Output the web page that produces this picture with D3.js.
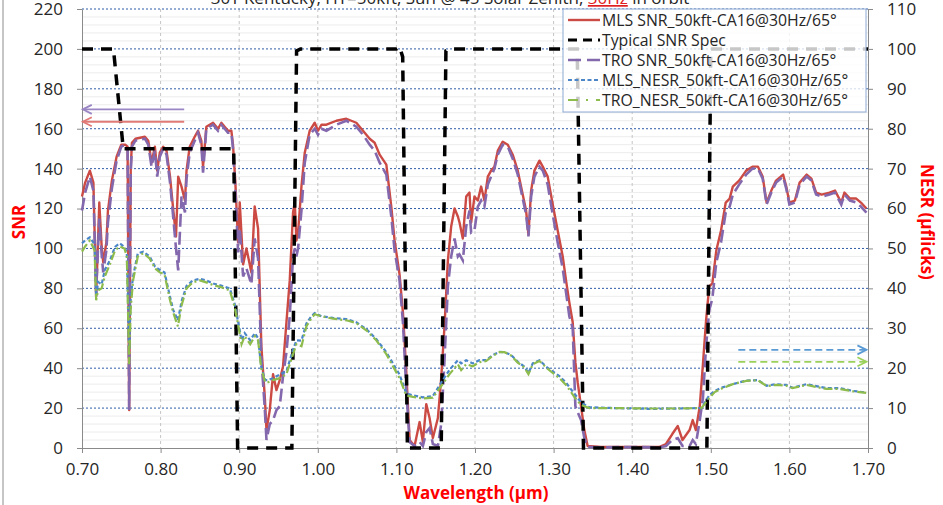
<!DOCTYPE html>
<html>
<head>
<meta charset="utf-8">
<script src="https://cdn.jsdelivr.net/npm/d3@7"></script>
<style>
  body { margin: 0; background: #fff; }
  svg { display: block; font-family: "Open Sans", "Liberation Sans", sans-serif; }
</style>
</head>
<body>
<svg id="chart" width="943" height="505"></svg>
<script>
// wavelength grid (µm) for the SNR curves
const snrWl = [0.700,0.704,0.710,0.7145,0.718,0.722,0.725,0.727,0.731,0.733,0.738,0.744,0.750,0.755,0.758,0.760,0.762,0.7635,0.768,0.780,
  0.7843,0.7885,0.7927,0.7957,0.799,0.8033,0.8075,0.812,0.8162,0.8196,0.8224,0.8266,0.831,0.833,0.837,0.8434,0.8476,0.8518,0.854,0.8582,
  0.8667,0.873,0.8773,0.8815,0.8857,0.890,0.8921,0.895,0.8986,0.9007,0.905,0.9092,0.9155,0.9197,0.924,0.9282,0.9325,0.9347,0.9389,0.9431,
  0.9474,0.9516,0.9558,0.9601,0.9643,0.9685,0.9707,0.9728,0.9749,0.9792,0.9834,0.9897,0.9961,1.0003,1.0046,1.011,1.0236,1.0363,1.049,1.0575,
  1.066,1.0723,1.0787,1.0872,1.0935,1.0977,1.104,1.1083,1.1125,1.1168,1.1231,1.1295,1.1337,1.138,1.1422,1.1464,1.1528,1.157,1.1612,1.1655,
  1.1697,1.174,1.1782,1.1803,1.1845,1.1888,1.193,1.1951,1.1993,1.2036,1.2078,1.212,1.2163,1.2205,1.2247,1.229,1.2353,1.2417,1.248,1.2544,
  1.2607,1.265,1.268,1.2714,1.2756,1.282,1.2862,1.2925,1.2989,1.3052,1.3116,1.3158,1.32,1.3243,1.3277,1.3306,1.3349,1.3391,1.3433,1.36,
  1.40,1.434,1.443,1.451,1.458,1.464,1.473,1.477,1.481,1.486,1.490,1.494,1.498,1.502,1.507,1.513,1.519,1.524,1.528,1.536,
  1.545,1.553,1.560,1.566,1.571,1.577,1.583,1.592,1.596,1.600,1.607,1.613,1.622,1.628,1.634,1.641,1.651,1.658,1.666,1.670,
  1.677,1.685,1.691,1.698];

const mlsSnr = [126,133,139,133,76,123,101,93,103,119,134,146,152,152,151,19,140,153,155,156,
  154,143,151,139,148,151,149,136,119,106,136,131,124,139,151,156,159,154,141,161,
  163,160,163,161,159,159,152,134,103,123,92,100,88,121,110,51,26,9,19,37,
  29,34,41,63,84,118,123,104,108,131,148,159,163,159,162,162,164,165,163,159,
  155,153,147,142,121,104,87,68,39,4,1,13,3,22,15,5,15,35,61,94,
  111,120,116,113,105,126,128,113,126,124,131,124,136,139,141,149,153.5,152,147,139,
  127,119,107,129,139,144,141,136,122,109,96,84,73,63,43,33,21,9,1,0.5,
  0.5,0.5,2,7,11,4,9,14,9,21,42,64,81,82.5,99,109,123,125,131,134,
  139,141,141,136,123,129,134,137,131,123,124,133,137,135,128,127,128,129,123,128,
  125,125,123,120];

const troSnr = [119,128,136,129,78,115,97,88,99,113,130,144,151,152,150,19,138,151,154,155,
  152,141,149,136,146,150,147,133,115,100,89,126,118,135,148,154,158,152,138,160,
  162,159,162,160,158,158,150,130,98,110,86,90,82,105,95,45,20,4,12,14,
  19,21,36,48,66,96,100,96,100,119,143,157,160,157,160,159,162,164,161,157,
  152,149,143,137,116,99,84,63,30,3,1,3,1,8,10,2,1,12,44,81,
  96,105,96,97,94,111,119,108,109,121,124,121,132,136,140,147,152,151,145,137,
  125,117,106,126,136,141,139,132,117,103,90,78,66,60,21,18,14,5,0.5,0.3,
  0.5,0.3,1,4,5,1,1,4,2,14,25,51,69,75,93,103,118,121,127,132,
  137,140,140,135,122,128,133,136,130,122,123,132,136,134,127,126,127,128,122,127,
  124,123,121,118];

// wavelength grid (µm) for the NESR curves
const nesrWl = [0.700,0.704,0.710,0.716,0.718,0.7205,0.725,0.729,0.7355,0.742,0.748,0.754,0.757,0.760,0.762,0.765,0.771,0.778,0.786,0.793,
  0.799,0.805,0.812,0.816,0.822,0.827,0.833,0.841,0.850,0.858,0.867,0.877,0.888,0.894,0.899,0.903,0.907,0.914,0.920,0.924,
  0.928,0.933,0.937,0.9431,0.9516,0.9601,0.9685,0.9728,0.9792,0.9855,0.9918,0.9961,1.0046,1.0194,1.0363,1.049,1.0617,1.0744,1.0872,1.0956,
  1.104,1.1125,1.121,1.1337,1.1464,1.157,1.1676,1.1782,1.1824,1.1888,1.1972,1.2057,1.2142,1.2226,1.2311,1.2374,1.2459,1.2544,1.2628,1.268,
  1.2735,1.282,1.2904,1.2989,1.3074,1.3158,1.3222,1.3285,1.3349,1.3455,1.379,1.421,1.460,1.488,1.494,1.498,1.505,1.515,1.528,1.545,
  1.560,1.571,1.583,1.596,1.604,1.622,1.634,1.647,1.664,1.681,1.698];

const mlsNesr = [51.3,52,52.8,51,37.9,41.6,41,44.6,47,50.4,51.3,50.4,49,24.6,38,43,48.8,49.2,48,45.4,
  44.6,44,37.9,34.6,32,37,40.6,42,42.4,42,41.2,40.7,40,36.3,31.3,27,28.8,27,28.8,27.5,
  20.4,17,17,17.5,18.4,19.2,24.6,27,26.9,31.2,33,33.8,33,32.6,32.3,31.5,29.8,27.3,24,21.2,
  18.4,13.7,13.2,12.7,13,16.4,19.6,22,21.2,22,21.2,22,22,23.3,24.1,24,23.3,21.6,20.4,18.8,
  21.2,22,20.4,19.2,18,16.4,14.7,13.1,11.4,10.2,10,9.8,9.9,10,11.9,13.2,14.3,15.2,16,16.9,
  17,15.6,16,15.8,15.1,16,15.5,15,15,14.3,13.9];

const troNesr = [49.2,50.5,52,49.5,37,39.5,40,43,46,49.5,50.5,50,48,21,35,42,48,48.8,47.5,45,
  44,43.5,37,34,30.5,36,40,41.5,42,41.5,40.8,40.3,39.5,35.5,30.5,26,28,26,28,27,
  20,16.5,16.5,17,17.5,18.5,23.5,26,25.5,30.5,32.5,33.5,33,32.4,32,31.3,29.5,27,23.5,20.5,
  17.5,13.2,12.8,12.4,12.6,15.5,18.5,21,19.5,21,20.5,21.5,21.8,23.1,24,24,23.2,21.4,20.2,18.5,
  21,21.8,20.2,18.8,17.5,15.8,14,12.2,10.8,10,10,9.9,9.9,10,11.5,12.5,14,15,16,16.8,
  17,15.5,15.8,15.6,15,15.8,15.3,14.8,14.8,14.2,13.8];

// typical SNR specification (step profile)
const specWl  = [0.700,0.740,0.7525,0.893,0.898,0.967,0.973,0.978,1.100,1.104,1.108,1.114,1.157,1.163,1.168,1.330,1.338,1.495,1.500,1.700];
const specSnr = [200,200,150,150,0,0,199,200,200,201,196,0,0,199,200,200,0,0,200,200];

const snrTicks  = [0,20,40,60,80,100,120,140,160,180,200,220];
const nesrTicks = [0,10,20,30,40,50,60,70,80,90,100,110];
const wlTicks   = [0.7,0.8,0.9,1.0,1.1,1.2,1.3,1.4,1.5,1.6,1.7];

const seriesNames = [
  "MLS SNR_50kft-CA16@30Hz/65°",
  "Typical SNR Spec",
  "TRO SNR_50kft-CA16@30Hz/65°",
  "MLS_NESR_50kft-CA16@30Hz/65°",
  "TRO_NESR_50kft-CA16@30Hz/65°"
];

const margin = { top: 9, right: 868, bottom: 448, left: 82 };

const svg = d3.select("#chart");

const x = d3.scaleLinear().domain([0.7, 1.7]).range([margin.left, margin.right]);
const y = d3.scaleLinear().domain([0, 220]).range([margin.bottom, margin.top]);
const y2 = d3.scaleLinear().domain([0, 110]).range([margin.bottom, margin.top]);

// outer frame edge on the left
svg.append("line")
  .attr("x1", 3).attr("x2", 3).attr("y1", 0).attr("y2", 505)
  .attr("stroke", "#8c8c8c").attr("stroke-width", 1);

// title, mostly cut off at the top edge as in the source image
const title = svg.append("text")
  .attr("x", 450).attr("y", 4)
  .attr("text-anchor", "middle")
  .attr("font-size", 17)
  .attr("fill", "#262626");
title.append("tspan").text("30T Kentucky, HT=50kft, Sun @ 45 Solar Zenith, ");
title.append("tspan").attr("fill", "#e02020").attr("text-decoration", "underline").text("30Hz");
title.append("tspan").text(" in orbit");

// minor horizontal gridlines
svg.append("g")
  .selectAll("line")
  .data(d3.range(4, 220, 4).filter(v => v % 20 !== 0))
  .join("line")
  .attr("x1", margin.left).attr("x2", margin.right)
  .attr("y1", d => y(d)).attr("y2", d => y(d))
  .attr("stroke", "#ececec").attr("stroke-width", 1);

// vertical gridlines
svg.append("g")
  .selectAll("line")
  .data(wlTicks.slice(1, -1))
  .join("line")
  .attr("x1", d => x(d)).attr("x2", d => x(d))
  .attr("y1", margin.top).attr("y2", margin.bottom)
  .attr("stroke", "#c4c4c4").attr("stroke-width", 1)
  .attr("stroke-dasharray", "3,3");

// major horizontal gridlines
svg.append("g")
  .selectAll("line")
  .data(snrTicks.slice(1))
  .join("line")
  .attr("x1", margin.left).attr("x2", margin.right)
  .attr("y1", d => y(d)).attr("y2", d => y(d))
  .attr("stroke", "#2f5ca8").attr("stroke-width", 1)
  .attr("stroke-dasharray", "2,2");

// axes
const tickFont = g => {
  g.selectAll("text").attr("font-size", 17).attr("fill", "#262626")
    .attr("font-family", "'Open Sans', sans-serif");
  g.selectAll("line").attr("stroke", "#8a8a8a");
  g.select(".domain").attr("stroke", "#8a8a8a");
};

svg.append("g")
  .attr("transform", `translate(${margin.left},0)`)
  .call(d3.axisLeft(y).tickValues(snrTicks).tickSize(5).tickPadding(14).tickSizeOuter(0))
  .call(tickFont);

svg.append("g")
  .attr("transform", `translate(${margin.right},0)`)
  .call(d3.axisRight(y2).tickValues(nesrTicks).tickSize(5).tickPadding(14).tickSizeOuter(0))
  .call(tickFont);

svg.append("g")
  .attr("transform", `translate(0,${margin.bottom})`)
  .call(d3.axisBottom(x).tickValues(wlTicks).tickFormat(d3.format(".2f")).tickSize(5).tickPadding(10).tickSizeOuter(0))
  .call(tickFont);

// axis titles
svg.append("text")
  .attr("transform", "translate(25,222) rotate(-90)")
  .attr("text-anchor", "middle")
  .attr("font-size", 17).attr("font-weight", "bold").attr("fill", "#ff0000")
  .text("SNR");

svg.append("text")
  .attr("transform", "translate(921,222) rotate(90)")
  .attr("text-anchor", "middle")
  .attr("font-size", 17).attr("font-weight", "bold").attr("fill", "#ff0000")
  .text("NESR (µflicks)");

svg.append("text")
  .attr("x", 476).attr("y", 499)
  .attr("text-anchor", "middle")
  .attr("font-size", 17).attr("font-weight", "bold").attr("fill", "#ff0000")
  .text("Wavelength (µm)");

// series
const snrLine = (vals) => d3.line()
  .x((d, i) => x(snrWl[i]))
  .y(d => y(d))(vals);

const nesrLine = (vals) => d3.line()
  .x((d, i) => x(nesrWl[i]))
  .y(d => y2(d))(vals);

const plot = svg.append("g");

plot.append("path")
  .attr("d", snrLine(mlsSnr))
  .attr("fill", "none")
  .attr("stroke", "#cc4a44")
  .attr("stroke-width", 2.4)
  .attr("stroke-linejoin", "round");

plot.append("path")
  .attr("d", snrLine(troSnr))
  .attr("fill", "none")
  .attr("stroke", "#8468ad")
  .attr("stroke-width", 2.6)
  .attr("stroke-dasharray", "13,5");

plot.append("path")
  .attr("d", d3.line().x((d, i) => x(specWl[i])).y(d => y(d))(specSnr))
  .attr("fill", "none")
  .attr("stroke", "#000")
  .attr("stroke-width", 3.5)
  .attr("stroke-dasharray", "11,8");

plot.append("path")
  .attr("d", nesrLine(mlsNesr))
  .attr("fill", "none")
  .attr("stroke", "#4a86c8")
  .attr("stroke-width", 2.2)
  .attr("stroke-dasharray", "4,2.5");

plot.append("path")
  .attr("d", nesrLine(troNesr))
  .attr("fill", "none")
  .attr("stroke", "#8dbb4c")
  .attr("stroke-width", 2.2)
  .attr("stroke-dasharray", "9,3,2,3");

// arrows pointing to the relevant axis
const arrow = (x1, x2, yy, color, dashed, dir) => {
  const g = svg.append("g").attr("fill", "none").attr("stroke", color).attr("stroke-width", 1.8);
  g.append("line").attr("x1", x1).attr("x2", x2).attr("y1", yy).attr("y2", yy)
    .attr("stroke-dasharray", dashed ? "7,4" : null);
  const tip = dir < 0 ? x1 : x2;
  g.append("polyline")
    .attr("points", `${tip - dir * 9},${yy - 4.5} ${tip},${yy} ${tip - dir * 9},${yy + 4.5}`);
};
arrow(x(0.701), x(0.83), y(169.7), "#9b86c4", false, -1);
arrow(x(0.701), x(0.83), y(163.5), "#e07a76", false, -1);
arrow(x(1.535), x(1.698), y2(24.6), "#5b9bd5", true, 1);
arrow(x(1.535), x(1.698), y2(21.6), "#9bd15a", true, 1);

// legend
const legend = svg.append("g").attr("transform", "translate(563,9)");
legend.append("rect")
  .attr("width", 303).attr("height", 103)
  .attr("fill", "#fff").attr("fill-opacity", 0.78)
  .attr("stroke", "#8ea9d4").attr("stroke-width", 1);

const legendStyle = [
  { color: "#cc4a44", dash: null, width: 2.4 },
  { color: "#000", dash: "9,6", width: 3 },
  { color: "#8468ad", dash: "13,6", width: 2.4 },
  { color: "#4a86c8", dash: "4,2.5", width: 2 },
  { color: "#8dbb4c", dash: "10,8,2,8", width: 2 }
];

seriesNames.forEach((name, i) => {
  const ry = 11 + i * 20;
  legend.append("line")
    .attr("x1", 5).attr("x2", 37).attr("y1", ry).attr("y2", ry)
    .attr("stroke", legendStyle[i].color)
    .attr("stroke-width", legendStyle[i].width)
    .attr("stroke-dasharray", legendStyle[i].dash);
  legend.append("text")
    .attr("x", 39).attr("y", ry)
    .attr("dy", "0.35em")
    .attr("font-size", 15.8).attr("fill", "#262626")
    .text(name);
});
</script>
</body>
</html>
